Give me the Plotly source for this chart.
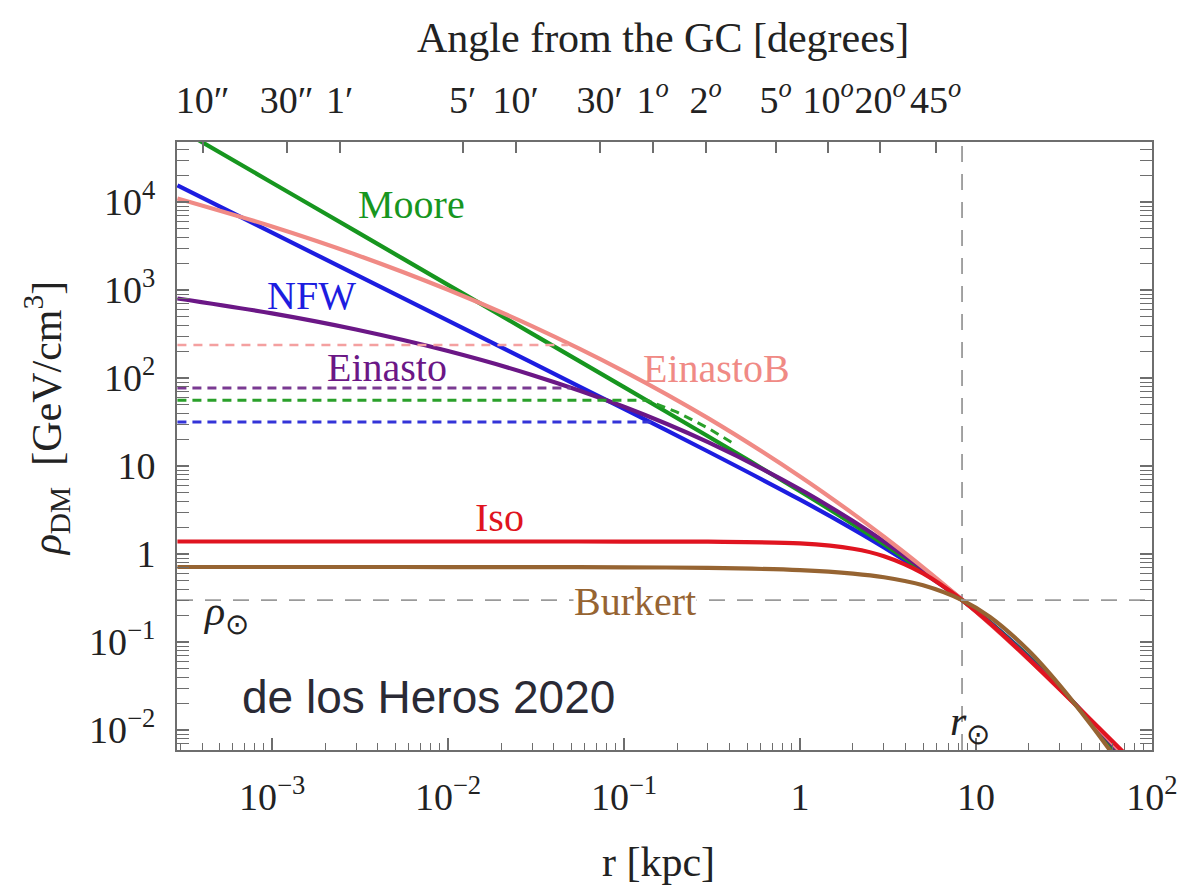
import math
import plotly.graph_objects as go

# Galactocentric radius (kpc) at which the profiles are sampled
r_kpc = [2.9e-4, 1e-3, 3e-3, 0.01, 0.03, 0.1, 0.3, 1, 2, 3, 5, 8.33, 12, 20, 30, 45, 70]

# Dark-matter density (GeV/cm^3) for each halo profile
rho_moore = [6.96e4, 1.657e4, 4632, 1145.8, 320.0, 78.83, 21.78, 5.169, 2.183, 1.289,
             0.6404, 0.300, 0.1662, 0.06682, 0.02990, 0.01241, 0.004386]
rho_nfw = [1.549e4, 4493, 1497, 449.0, 149.4, 44.57, 14.62, 4.147, 1.919, 1.188,
           0.6192, 0.300, 0.1683, 0.0679, 0.03016, 0.01236, 0.004294]
rho_einasto = [801.2, 542.1, 355.4, 202.3, 108.3, 47.07, 18.67, 5.443, 2.367, 1.387,
               0.6695, 0.3028, 0.1643, 0.06537, 0.02964, 0.01271, 0.004711]
rho_einastob = [1.097e4, 5276, 2522, 1006.8, 389.0, 119.15, 34.99, 7.618, 2.880, 1.573,
                0.7059, 0.3025, 0.1602, 0.06297, 0.02889, 0.01279, 0.005047]
rho_iso = [1.387, 1.387, 1.387, 1.387, 1.387, 1.386, 1.3805, 1.318, 1.148, 0.9441,
           0.6022, 0.3004, 0.1631, 0.06348, 0.02895, 0.01302, 0.005409]
rho_burkert = [0.712, 0.712, 0.712, 0.7114, 0.7103, 0.7064, 0.6951, 0.6558, 0.6000, 0.5451,
               0.4417, 0.2999, 0.1928, 0.07908, 0.0320, 0.01149, 0.003462]

# Flattened (core) versions of the cuspy profiles
core_r_einastob = [2.9e-4, 0.048]
core_rho_einastob = [237, 237]
core_r_einasto = [2.9e-4, 0.05]
core_rho_einasto = [77, 77]
core_r_moore = [2.9e-4, 0.135, 0.2, 0.3, 0.41]
core_rho_moore = [56, 56, 41, 27, 18.5]
core_r_nfw = [2.9e-4, 0.145]
core_rho_nfw = [31.6, 31.6]

# Solar position and local density
r_sun = 8.33
rho_sun = 0.3

# Axis limits (kpc, GeV/cm^3)
r_min, r_max = 10 ** -3.54, 100.0
rho_min, rho_max = 10 ** -2.227, 10 ** 4.682

# Tick marks
x_tickvals = [1e-3, 1e-2, 1e-1, 1, 10, 100]
x_ticktext = ["10<sup>\u22123</sup>", "10<sup>\u22122</sup>", "10<sup>\u22121</sup>", "1", "10", "10<sup>2</sup>"]
y_tickvals = [1e-2, 1e-1, 1, 10, 100, 1e3, 1e4]
y_ticktext = ["10<sup>\u22122</sup>", "10<sup>\u22121</sup>", "1", "10", "10<sup>2</sup>", "10<sup>3</sup>", "10<sup>4</sup>"]

angle_deg = [10 / 3600, 30 / 3600, 1 / 60, 5 / 60, 10 / 60, 0.5, 1, 2, 5, 10, 20, 45]
angle_text = ["10\u2033", "30\u2033", "1\u2032", "5\u2032", "10\u2032", "30\u2032",
              "1<sup><i>o</i></sup>", "2<sup><i>o</i></sup>", "5<sup><i>o</i></sup>",
              "10<sup><i>o</i></sup>", "20<sup><i>o</i></sup>", "45<sup><i>o</i></sup>"]
angle_r = [r_sun * math.sin(math.radians(a)) for a in angle_deg]

SERIF = "Liberation Serif"
FRAME = "#6e6e6e"

C_MOORE = "#17961f"
C_NFW = "#1d1de0"
C_EIN = "#6b1786"
C_EINB = "#f08a85"
C_ISO = "#e01420"
C_BUR = "#966432"

fig = go.Figure()


def curve(x, y, color, width=4.2, dash=None, shape="spline", xaxis="x"):
    line = dict(color=color, width=width, dash=dash, shape=shape)
    if shape == "spline":
        line["smoothing"] = 0.9
    fig.add_trace(go.Scatter(
        x=x, y=y, mode="lines", xaxis=xaxis, hoverinfo="skip",
        line=line, showlegend=False,
    ))


# reference lines through the solar position
fig.add_trace(go.Scatter(x=[r_min, r_max], y=[rho_sun, rho_sun], mode="lines", xaxis="x2",
                         line=dict(color="#9a9a9a", width=1.8, dash="16px,12px"),
                         hoverinfo="skip", showlegend=False))
fig.add_trace(go.Scatter(x=[r_sun, r_sun], y=[rho_min, rho_max], mode="lines",
                         line=dict(color="#9a9a9a", width=1.8, dash="16px,12px"),
                         hoverinfo="skip", showlegend=False))

# halo profiles
curve(r_kpc, rho_nfw, C_NFW)
curve(r_kpc, rho_moore, C_MOORE)
curve(r_kpc, rho_einasto, C_EIN)
curve(r_kpc, rho_einastob, C_EINB)
curve(r_kpc, rho_iso, C_ISO)
curve(r_kpc, rho_burkert, C_BUR)

# cored variants
curve(core_r_einastob, core_rho_einastob, "#f4a0a0", width=2.4, dash="9px,7px", shape="linear")
curve(core_r_einasto, core_rho_einasto, "#7a3a92", width=3, dash="9px,6px", shape="linear")
curve(core_r_moore, core_rho_moore, "#2aa02a", width=3, dash="9px,6px", shape="linear")
curve(core_r_nfw, core_rho_nfw, "#3434d8", width=3, dash="9px,6px", shape="linear")

# plot-area geometry in pixels
L, R, T, B = 177, 1162, 142, 750


def pos(px, py):
    return (px - L) / (R - L), (B - py) / (B - T)


def label(text, px, py, color, size=40, family=SERIF, angle=0, bg=None):
    x, y = pos(px, py)
    fig.add_annotation(
        x=x, y=y, xref="paper", yref="paper", text=text, showarrow=False,
        xanchor="center", yanchor="middle", textangle=angle,
        font=dict(family=family, size=size, color=color),
        bgcolor=bg, borderpad=0,
    )


label("Moore", 414, 205, C_MOORE)
label("NFW", 313, 295, C_NFW)
label("Einasto", 389, 367, C_EIN)
label("EinastoB", 722, 368, C_EINB)
label("Iso", 503, 517, C_ISO)
label("Burkert", 640, 601, C_BUR, bg="white")
label("<i>\u03c1</i><sub>\u2299</sub>", 226, 614, "#222222", size=42)
label("<i>r</i><sub>\u2299</sub>", 978, 724, "#222222", size=42)
label("de los Heros 2020", 431, 697, "#2a2a35", size=46, family="Liberation Sans")

label("Angle from the GC [degrees]", 668, 38, "#222222", size=42)
label("r [kpc]", 663, 862, "#222222", size=42)
label("<i>\u03c1</i><sub>DM</sub>&nbsp;&nbsp;[GeV/cm<sup>3</sup>]", 45, 418, "#222222", size=42, angle=-90)

axis_common = dict(
    type="log", showgrid=False, zeroline=False,
    ticks="inside", tickcolor=FRAME, tickwidth=1.5,
    tickfont=dict(family=SERIF, size=38, color="#222222"),
)

fig.update_layout(
    width=1190, height=895,
    margin=dict(l=L, r=1190 - R, t=T, b=895 - B),
    paper_bgcolor="white", plot_bgcolor="white",
    showlegend=False,
    xaxis=dict(
        **axis_common,
        range=[math.log10(r_min), math.log10(r_max)],
        tickmode="array", tickvals=x_tickvals, ticktext=x_ticktext, ticklen=12,
        showline=True, linecolor=FRAME, linewidth=2, mirror=True,
        minor=dict(ticks="inside", ticklen=7, tickcolor=FRAME, tickwidth=1.3, dtick="D1", showgrid=False),
        ticklabelstandoff=12,
    ),
    xaxis2=dict(
        **axis_common,
        overlaying="x", side="top", anchor="y",
        range=[math.log10(r_min), math.log10(r_max)],
        tickmode="array", tickvals=angle_r, ticktext=angle_text, ticklen=11,
        tickangle=0,
        showline=False,
        ticklabelstandoff=20,
    ),
    yaxis=dict(
        **axis_common,
        range=[math.log10(rho_min), math.log10(rho_max)],
        tickmode="array", tickvals=y_tickvals, ticktext=y_ticktext, ticklen=12,
        showline=True, linecolor=FRAME, linewidth=2, mirror="allticks",
        minor=dict(ticks="inside", ticklen=7, tickcolor=FRAME, tickwidth=1.3, dtick="D1", showgrid=False),
        ticklabelstandoff=12,
    ),
)

fig.write_html("out.html")
